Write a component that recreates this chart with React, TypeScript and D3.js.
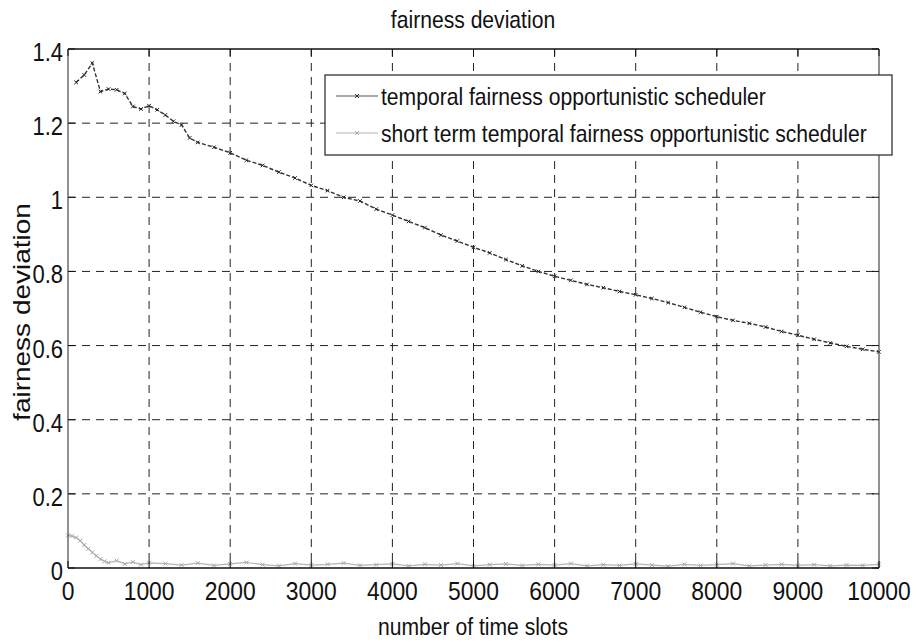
import React from "react";
import * as d3 from "d3";

// number of time slots at which the temporal-fairness scheduler was sampled
const temporalSlots = [
  100, 200, 300, 400, 500, 600, 700, 800, 900, 1000, 1100, 1200, 1300, 1400, 1500, 1600,
  1800, 2000, 2200, 2400, 2600, 2800, 3000, 3200, 3400, 3600, 3800, 4000, 4200, 4400,
  4600, 4800, 5000, 5200, 5400, 5600, 5800, 6000, 6200, 6400, 6600, 6800, 7000, 7200,
  7400, 7600, 7800, 8000, 8200, 8400, 8600, 8800, 9000, 9200, 9400, 9600, 9800, 10000,
];
const temporalValues = [
  1.31, 1.33, 1.362, 1.285, 1.292, 1.29, 1.28, 1.245, 1.238, 1.247, 1.236, 1.222, 1.205, 1.195, 1.16, 1.148,
  1.135, 1.12, 1.1, 1.086, 1.068, 1.052, 1.032, 1.018, 1.0, 0.99, 0.968, 0.952, 0.935, 0.918,
  0.898, 0.882, 0.865, 0.85, 0.832, 0.815, 0.8, 0.787, 0.776, 0.765, 0.756, 0.746, 0.737, 0.727,
  0.716, 0.703, 0.69, 0.678, 0.668, 0.66, 0.65, 0.638, 0.628, 0.617, 0.607, 0.598, 0.59, 0.583,
];

// short term temporal fairness scheduler
const shortTermSlots = [
  0, 50, 100, 150, 200, 250, 300, 350, 400, 450, 500, 600, 700, 800, 900, 1000,
  1200, 1400, 1600, 1800, 2000, 2200, 2400, 2600, 2800, 3000, 3200, 3400, 3600, 3800,
  4000, 4200, 4400, 4600, 4800, 5000, 5200, 5400, 5600, 5800, 6000, 6200, 6400, 6600,
  6800, 7000, 7200, 7400, 7600, 7800, 8000, 8200, 8400, 8600, 8800, 9000, 9200, 9400,
  9600, 9800, 10000,
];
const shortTermValues = [
  0.088, 0.086, 0.082, 0.074, 0.062, 0.052, 0.042, 0.033, 0.024, 0.018, 0.014, 0.02, 0.011, 0.016, 0.009, 0.014,
  0.012, 0.008, 0.013, 0.007, 0.011, 0.015, 0.009, 0.006, 0.012, 0.008, 0.01, 0.013, 0.007, 0.009,
  0.011, 0.006, 0.01, 0.008, 0.012, 0.006, 0.009, 0.011, 0.007, 0.01, 0.008, 0.012, 0.006, 0.009,
  0.007, 0.011, 0.008, 0.005, 0.01, 0.007, 0.009, 0.012, 0.006, 0.008, 0.01, 0.007, 0.009, 0.006,
  0.008, 0.007, 0.01,
];

const xTicks = [0, 1000, 2000, 3000, 4000, 5000, 6000, 7000, 8000, 9000, 10000];
const yTicks = [0, 0.2, 0.4, 0.6, 0.8, 1, 1.2, 1.4];

const seriesNames = [
  "temporal fairness opportunistic scheduler",
  "short term temporal fairness opportunistic scheduler",
];

const W = 917;
const H = 643;
const plot = { left: 68, right: 879, top: 49, bottom: 568 };
const FONT = "'Liberation Sans', Arial, sans-serif";
const SQUEEZE = 0.88;

function NarrowText(props: {
  x: number;
  y: number;
  size: number;
  anchor?: "start" | "middle" | "end";
  children: React.ReactNode;
}) {
  const { x, y, size, anchor = "start", children } = props;
  return (
    <text
      transform={`translate(${x},${y}) scale(${SQUEEZE},1)`}
      fontFamily={FONT}
      fontSize={size}
      textAnchor={anchor}
      fill="#111"
    >
      {children}
    </text>
  );
}

export default function App() {
  const x = d3.scaleLinear().domain([0, 10000]).range([plot.left, plot.right]);
  const y = d3.scaleLinear().domain([0, 1.4]).range([plot.bottom, plot.top]);

  const line = d3
    .line<[number, number]>()
    .x((d) => x(d[0]))
    .y((d) => y(d[1]));

  const temporal: [number, number][] = temporalSlots.map((s, i) => [s, temporalValues[i]]);
  const shortTerm: [number, number][] = shortTermSlots.map((s, i) => [s, shortTermValues[i]]);

  const cross = (cx: number, cy: number, r: number, color: string, key: string) => (
    <path
      key={key}
      d={`M${cx - r},${cy - r}L${cx + r},${cy + r}M${cx - r},${cy + r}L${cx + r},${cy - r}`}
      stroke={color}
      strokeWidth={1}
    />
  );

  const legend = { left: 325, right: 892, top: 75, bottom: 155 };

  return (
    <svg
      width={W}
      height={H}
      style={{ position: "absolute", left: 0, top: 0, background: "#fff" }}
    >
      <rect x={0} y={0} width={W} height={H} fill="#fff" />

      {/* grid */}
      {xTicks.slice(1, -1).map((t) => (
        <line
          key={`gx${t}`}
          x1={x(t)}
          x2={x(t)}
          y1={plot.top}
          y2={plot.bottom}
          stroke="#222"
          strokeWidth={1}
          strokeDasharray="8,6"
        />
      ))}
      {yTicks.slice(1, -1).map((t) => (
        <line
          key={`gy${t}`}
          x1={plot.left}
          x2={plot.right}
          y1={y(t)}
          y2={y(t)}
          stroke="#222"
          strokeWidth={1}
          strokeDasharray="8,6"
        />
      ))}

      {/* series */}
      <path d={line(shortTerm) ?? ""} fill="none" stroke="#b4b4b4" strokeWidth={1.2} />
      {shortTerm.map((d, i) => cross(x(d[0]), y(d[1]), 2, "#a8a8a8", `sm${i}`))}
      <path
        d={line(temporal) ?? ""}
        fill="none"
        stroke="#333"
        strokeWidth={1.4}
        strokeDasharray="4,2"
      />
      {temporal.map((d, i) => cross(x(d[0]), y(d[1]), 1.8, "#222", `tm${i}`))}

      {/* axes box */}
      <line x1={plot.left} x2={plot.right} y1={plot.top} y2={plot.top} stroke="#111" strokeWidth={1.3} />
      <line x1={plot.left} x2={plot.right} y1={plot.bottom} y2={plot.bottom} stroke="#111" strokeWidth={1.5} />
      <line x1={plot.left} x2={plot.left} y1={plot.top} y2={plot.bottom} stroke="#555" strokeWidth={1.3} />
      <line x1={plot.right} x2={plot.right} y1={plot.top} y2={plot.bottom} stroke="#555" strokeWidth={1.3} />

      {/* ticks */}
      {xTicks.map((t) => (
        <g key={`tx${t}`}>
          <line x1={x(t)} x2={x(t)} y1={plot.bottom} y2={plot.bottom - 7} stroke="#111" />
          <line x1={x(t)} x2={x(t)} y1={plot.top} y2={plot.top + 7} stroke="#111" />
          <NarrowText x={x(t)} y={plot.bottom + 32} size={26} anchor="middle">
            {String(t)}
          </NarrowText>
        </g>
      ))}
      {yTicks.map((t) => (
        <g key={`ty${t}`}>
          <line x1={plot.left} x2={plot.left + 7} y1={y(t)} y2={y(t)} stroke="#111" />
          <line x1={plot.right} x2={plot.right - 7} y1={y(t)} y2={y(t)} stroke="#111" />
          <NarrowText x={plot.left - 5} y={y(t) + 12} size={25} anchor="end">
            {d3.format("~g")(t)}
          </NarrowText>
        </g>
      ))}

      {/* titles */}
      <NarrowText x={473} y={28} size={24} anchor="middle">
        fairness deviation
      </NarrowText>
      <NarrowText x={473} y={635} size={24} anchor="middle">
        number of time slots
      </NarrowText>
      <text
        transform={`translate(30,312) rotate(-90) scale(1,${SQUEEZE})`}
        fontFamily={FONT}
        fontSize={28}
        textAnchor="middle"
        fill="#111"
      >
        fairness deviation
      </text>

      {/* legend */}
      <rect
        x={legend.left}
        y={legend.top}
        width={legend.right - legend.left}
        height={legend.bottom - legend.top}
        fill="#fff"
        stroke="#222"
        strokeWidth={1.2}
      />
      <line x1={336} x2={378} y1={96} y2={96} stroke="#555" strokeWidth={1.2} />
      {cross(357, 96, 2, "#333", "lg0")}
      <line x1={336} x2={378} y1={133} y2={133} stroke="#b4b4b4" strokeWidth={1.2} />
      {cross(357, 133, 2, "#a8a8a8", "lg1")}
      <NarrowText x={381} y={105} size={24}>
        {seriesNames[0]}
      </NarrowText>
      <NarrowText x={381} y={142} size={24}>
        {seriesNames[1]}
      </NarrowText>
    </svg>
  );
}
